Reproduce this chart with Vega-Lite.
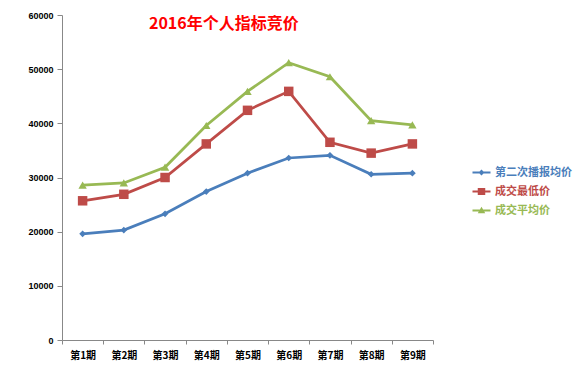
{
  "$schema": "https://vega.github.io/schema/vega-lite/v6.json",
  "width": 371,
  "height": 325,
  "autosize": {"type": "none"},
  "padding": {"left": 62, "top": 15, "right": 147, "bottom": 43},
  "background": "white",
  "config": {
    "view": {"stroke": null},
    "font": "Noto Sans CJK SC"
  },
  "title": {
    "text": "2016年个人指标竞价",
    "color": "#FF0000",
    "fontSize": 16,
    "fontWeight": "bold",
    "font": "Noto Sans CJK SC",
    "anchor": "start",
    "dx": 121,
    "offset": -21
  },
  "data": {
    "values": [
      {"period": "第1期", "series": "第二次播报均价", "value": 19600},
      {"period": "第2期", "series": "第二次播报均价", "value": 20300},
      {"period": "第3期", "series": "第二次播报均价", "value": 23300},
      {"period": "第4期", "series": "第二次播报均价", "value": 27400},
      {"period": "第5期", "series": "第二次播报均价", "value": 30800},
      {"period": "第6期", "series": "第二次播报均价", "value": 33600},
      {"period": "第7期", "series": "第二次播报均价", "value": 34100},
      {"period": "第8期", "series": "第二次播报均价", "value": 30600},
      {"period": "第9期", "series": "第二次播报均价", "value": 30800},
      {"period": "第1期", "series": "成交最低价", "value": 25700},
      {"period": "第2期", "series": "成交最低价", "value": 26900},
      {"period": "第3期", "series": "成交最低价", "value": 30000},
      {"period": "第4期", "series": "成交最低价", "value": 36200},
      {"period": "第5期", "series": "成交最低价", "value": 42400},
      {"period": "第6期", "series": "成交最低价", "value": 45900},
      {"period": "第7期", "series": "成交最低价", "value": 36500},
      {"period": "第8期", "series": "成交最低价", "value": 34500},
      {"period": "第9期", "series": "成交最低价", "value": 36200},
      {"period": "第1期", "series": "成交平均价", "value": 28600},
      {"period": "第2期", "series": "成交平均价", "value": 29000},
      {"period": "第3期", "series": "成交平均价", "value": 31900},
      {"period": "第4期", "series": "成交平均价", "value": 39600},
      {"period": "第5期", "series": "成交平均价", "value": 45900},
      {"period": "第6期", "series": "成交平均价", "value": 51200},
      {"period": "第7期", "series": "成交平均价", "value": 48600},
      {"period": "第8期", "series": "成交平均价", "value": 40500},
      {"period": "第9期", "series": "成交平均价", "value": 39700}
    ]
  },
  "encoding": {
    "x": {
      "field": "period",
      "type": "nominal",
      "sort": null,
      "scale": {"type": "band", "paddingInner": 0, "paddingOuter": 0},
      "axis": {
        "title": null,
        "labelAngle": 0,
        "labelFont": "Noto Sans CJK SC",
        "labelFontSize": 10,
        "labelFontWeight": "bold",
        "labelColor": "#000000",
        "labelPadding": 6,
        "tickBand": "extent",
        "tickSize": 4,
        "tickColor": "#888888",
        "domainColor": "#888888",
        "grid": false
      }
    },
    "y": {
      "field": "value",
      "type": "quantitative",
      "scale": {"domain": [0, 60000], "nice": false},
      "axis": {
        "title": null,
        "values": [0, 10000, 20000, 30000, 40000, 50000, 60000],
        "format": "d",
        "labelFont": "Liberation Sans",
        "labelFontSize": 9,
        "labelFontWeight": "bold",
        "labelColor": "#000000",
        "labelPadding": 4,
        "tickSize": 5,
        "tickColor": "#888888",
        "domainColor": "#888888",
        "grid": false
      }
    },
    "color": {
      "field": "series",
      "type": "nominal",
      "sort": ["第二次播报均价", "成交最低价", "成交平均价"],
      "scale": {
        "domain": ["第二次播报均价", "成交最低价", "成交平均价"],
        "range": ["#4A7EBB", "#BE4B48", "#98B954"]
      },
      "legend": {
        "title": null,
        "orient": "none",
        "legendX": 414,
        "legendY": 152,
        "rowPadding": 7,
        "labelFont": "Noto Sans CJK SC",
        "labelFontSize": 11,
        "labelFontWeight": "bold",
        "symbolSize": 100,
        "symbolStrokeWidth": 0,
        "labelOffset": 8,
        "encode": {
          "labels": {"update": {"fill": {"scale": "color", "field": "value"}}},
          "symbols": {
            "update": {
              "fill": {"scale": "color", "field": "value"},
              "strokeWidth": {"value": 0},
              "size": {"value": 100},
              "shape": {"signal": "datum.value === '第二次播报均价' ? 'M-1.8,-0.2L1.8,-0.2L1.8,0.2L-1.8,0.2Z M-0.6,0L0,-0.6L0.6,0L0,0.6Z' : datum.value === '成交最低价' ? 'M-1.8,-0.2L1.8,-0.2L1.8,0.2L-1.8,0.2Z M-0.75,-0.7L0.75,-0.7L0.75,0.7L-0.75,0.7Z' : 'M-1.8,-0.2L1.8,-0.2L1.8,0.2L-1.8,0.2Z M-0.75,0.55L0,-0.75L0.75,0.55Z'"}
            }
          }
        }
      }
    }
  },
  "layer": [
    {
      "mark": {"type": "line", "strokeWidth": 2.75}
    },
    {
      "transform": [{"filter": {"field": "series", "equal": "第二次播报均价"}}],
      "mark": {"type": "point", "filled": true, "opacity": 1, "shape": "diamond", "size": 45}
    },
    {
      "transform": [{"filter": {"field": "series", "equal": "成交最低价"}}],
      "mark": {"type": "point", "filled": true, "opacity": 1, "shape": "square", "size": 90}
    },
    {
      "transform": [{"filter": {"field": "series", "equal": "成交平均价"}}],
      "mark": {"type": "point", "filled": true, "opacity": 1, "shape": "triangle-up", "size": 70}
    }
  ]
}
